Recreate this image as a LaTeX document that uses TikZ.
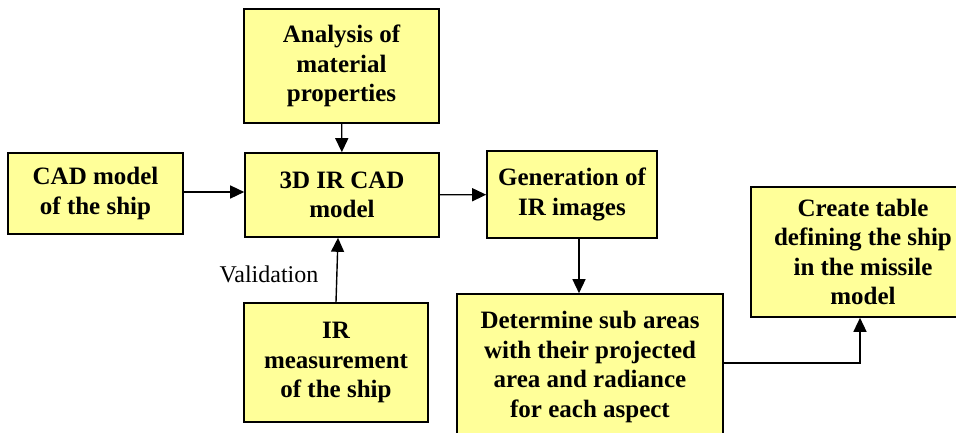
\documentclass[tikz,border=0pt]{standalone}
\usepackage{fontspec}
\setmainfont{Liberation Serif}
\usetikzlibrary{arrows.meta, positioning, calc}

\definecolor{boxyellow}{RGB}{255,255,153}

\begin{document}
\begin{tikzpicture}[
      x=1pt, y=-1pt,
      stage/.style={rectangle, draw, line width=1.6pt, fill=boxyellow, align=center, inner sep=0pt,
        font=\fontsize{25}{29.5}\selectfont\bfseries},
      arrow/.style={-{Triangle[length=14pt, width=13pt]}, line width=1.4pt}
    ]
    \useasboundingbox (0,0) rectangle (956,432);

    \node[stage, minimum width=195pt, minimum height=114pt] (mat) at (341.5,66) {Analysis of\\material\\properties};
    \node[stage, minimum width=175pt, minimum height=81pt] (cad) at (95.5,193.5) {CAD model\\of the ship};
    \node[stage, minimum width=194pt, minimum height=84pt] (ircad) at (342,195) {3D IR CAD\\model};
    \node[stage, minimum width=170pt, minimum height=87pt] (gen) at (572,194.5) {Generation of\\IR images};
    \node[stage, minimum width=184pt, minimum height=119pt] (meas) at (336,362.5) {IR\\measurement\\of the ship};
    \node[stage, minimum width=266pt, minimum height=146pt] (sub) at (590,367) {Determine sub areas\\with their projected\\area and radiance\\for each aspect};
    \node[stage, minimum width=224pt, minimum height=130pt] (tab) at (863,252) {Create table\\defining the ship\\in the missile\\model};

    \node[font=\fontsize{24}{29}\selectfont] (val) at (269,274) {Validation};

    \draw[arrow] (mat) -- (ircad);
    \draw[arrow] (cad.east |- 0,192) -- (ircad.west |- 0,192);
    \draw[arrow] (ircad) -- (gen);
    \draw[arrow] (meas.north) -- ([xshift=-4pt]ircad.south);
    \draw[arrow] ([xshift=7pt]gen.south) -- ([xshift=7pt]gen.south |- sub.north);
    \draw[arrow] ([yshift=4pt]sub.east) -| ([xshift=-3pt]tab.south);
  \end{tikzpicture}
\end{document}
